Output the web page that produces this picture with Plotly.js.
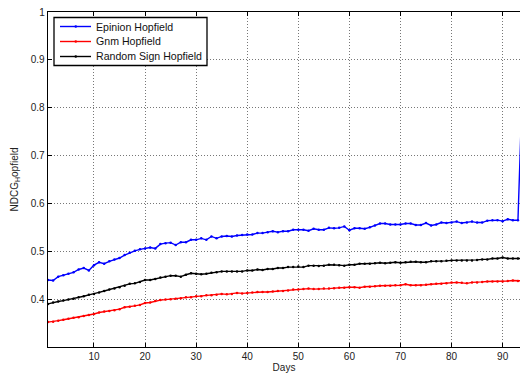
<!DOCTYPE html>
<html>
<head>
<meta charset="utf-8">
<script src="https://cdn.plot.ly/plotly-3.0.1.min.js"></script>
<style>html,body{margin:0;padding:0;background:#fff;}#chart{width:520px;height:374px;}</style>
</head>
<body>
<div id="chart"></div>
<script>
var days = [];
for (var d = 1; d <= 94; d++) days.push(d);

var epinion = [
0.440,0.439,0.447,0.450,0.453,0.456,0.462,0.465,0.460,0.471,
0.477,0.474,0.479,0.483,0.486,0.492,0.497,0.501,0.504,0.506,
0.508,0.506,0.515,0.517,0.518,0.513,0.519,0.519,0.524,0.524,
0.527,0.524,0.531,0.527,0.531,0.532,0.531,0.533,0.534,0.535,
0.535,0.538,0.538,0.540,0.542,0.540,0.542,0.542,0.545,0.545,
0.545,0.543,0.547,0.545,0.545,0.549,0.548,0.549,0.552,0.544,
0.548,0.548,0.547,0.550,0.554,0.558,0.558,0.556,0.556,0.556,
0.558,0.558,0.555,0.555,0.559,0.554,0.556,0.560,0.559,0.560,
0.562,0.559,0.560,0.562,0.560,0.560,0.564,0.565,0.565,0.563,
0.567,0.565,0.565,0.890];

var gnm = [
0.352,0.353,0.355,0.357,0.359,0.361,0.362,0.365,0.367,0.369,
0.372,0.374,0.375,0.377,0.379,0.383,0.384,0.386,0.388,0.392,
0.393,0.396,0.398,0.399,0.400,0.401,0.402,0.404,0.404,0.406,
0.406,0.408,0.408,0.409,0.411,0.410,0.411,0.413,0.412,0.413,
0.414,0.415,0.415,0.415,0.416,0.417,0.417,0.418,0.420,0.420,
0.421,0.422,0.421,0.421,0.422,0.422,0.423,0.424,0.424,0.425,
0.425,0.424,0.426,0.426,0.427,0.428,0.428,0.428,0.429,0.429,
0.431,0.429,0.429,0.429,0.430,0.431,0.432,0.432,0.433,0.435,
0.435,0.434,0.433,0.435,0.435,0.436,0.437,0.437,0.437,0.437,
0.438,0.439,0.438,0.438];

var randomSign = [
0.390,0.393,0.395,0.397,0.399,0.401,0.404,0.406,0.409,0.411,
0.414,0.417,0.420,0.422,0.425,0.428,0.432,0.433,0.436,0.440,
0.440,0.442,0.445,0.447,0.449,0.449,0.447,0.451,0.454,0.453,
0.452,0.453,0.455,0.456,0.458,0.458,0.458,0.458,0.458,0.460,
0.460,0.462,0.461,0.463,0.463,0.465,0.465,0.467,0.467,0.468,
0.467,0.470,0.470,0.469,0.470,0.472,0.472,0.471,0.470,0.472,
0.472,0.474,0.474,0.474,0.475,0.476,0.475,0.476,0.477,0.476,
0.477,0.478,0.478,0.477,0.477,0.479,0.479,0.479,0.480,0.481,
0.481,0.481,0.481,0.481,0.482,0.483,0.483,0.485,0.485,0.487,
0.485,0.485,0.485,0.485];

var seriesNames = ['Epinion Hopfield','Gnm Hopfield','Random Sign Hopfield'];
var seriesColors = ['#0000ff','#ff0000','#000000'];
var xTicks = [10,20,30,40,50,60,70,80,90];
var yTicks = [0.4,0.5,0.6,0.7,0.8,0.9,1];
var yTickText = ['0.4','0.5','0.6','0.7','0.8','0.9','1'];

var font = 'Liberation Sans, Arial, Helvetica, sans-serif';
var W = 520, H = 374, M = {l: 48, r: 0, t: 12, b: 27};
var PW = W - M.l - M.r, PH = H - M.t - M.b;
function px2x(p) { return (p - M.l) / PW; }
function px2y(p) { return 1 - (p - M.t) / PH; }

function tr(y, name, color) {
  return {x: days, y: y, name: name, type: 'scatter', mode: 'lines+markers',
    line: {color: color, width: 1.4}, marker: {color: color, size: 2.5}, showlegend: false};
}
var data = [tr(epinion, seriesNames[0], seriesColors[0]), tr(gnm, seriesNames[1], seriesColors[1]), tr(randomSign, seriesNames[2], seriesColors[2])];

// legend drawn as paper shapes + annotations
var shapes = [{type: 'rect', xref: 'paper', yref: 'paper', x0: px2x(54), x1: px2x(207), y0: px2y(17.5), y1: px2y(65.5),
  line: {color: '#000', width: 1.3}, fillcolor: '#fff', layer: 'above'}];
var annotations = [];
var rowY = [26.5, 41.5, 56.5];
for (var i = 0; i < seriesNames.length; i++) {
  shapes.push({type: 'line', xref: 'paper', yref: 'paper', x0: px2x(60), x1: px2x(91), y0: px2y(rowY[i]), y1: px2y(rowY[i]),
    line: {color: seriesColors[i], width: 1.4}, layer: 'above'});
  shapes.push({type: 'circle', xref: 'paper', yref: 'paper', x0: px2x(74.5), x1: px2x(77), y0: px2y(rowY[i] - 1.25), y1: px2y(rowY[i] + 1.25),
    line: {color: seriesColors[i], width: 0}, fillcolor: seriesColors[i], layer: 'above'});
  annotations.push({xref: 'paper', yref: 'paper', x: px2x(93.5), y: px2y(rowY[i]), xanchor: 'left', yanchor: 'middle',
    text: seriesNames[i], showarrow: false, font: {family: font, size: 10.6, color: '#111'}});
}

var layout = {
  width: W, height: H,
  margin: M,
  paper_bgcolor: '#fff', plot_bgcolor: '#fff',
  font: {family: font, size: 10, color: '#222'},
  showlegend: false,
  shapes: shapes,
  annotations: annotations,
  xaxis: {range: [1, 93.4], tickvals: xTicks, ticks: 'inside', ticklen: 4, tickcolor: '#000',
    showline: true, linecolor: '#000', linewidth: 1.3, mirror: 'ticks', zeroline: false,
    showgrid: true, gridcolor: '#777', griddash: '1px,2px', gridwidth: 1,
    title: {text: 'Days', standoff: 2, font: {family: font, size: 10, color: '#222'}}},
  yaxis: {range: [0.3, 1], tickvals: yTicks, ticktext: yTickText, ticks: 'inside', ticklen: 4, tickcolor: '#000',
    showline: true, linecolor: '#000', linewidth: 1.3, zeroline: false,
    showgrid: true, gridcolor: '#777', griddash: '1px,2px', gridwidth: 1,
    title: {text: 'NDCG<sub>H</sub>opfield', standoff: 10, font: {family: font, size: 10, color: '#222'}}}
};
Plotly.newPlot('chart', data, layout, {displayModeBar: false, staticPlot: true});
</script>
</body>
</html>
